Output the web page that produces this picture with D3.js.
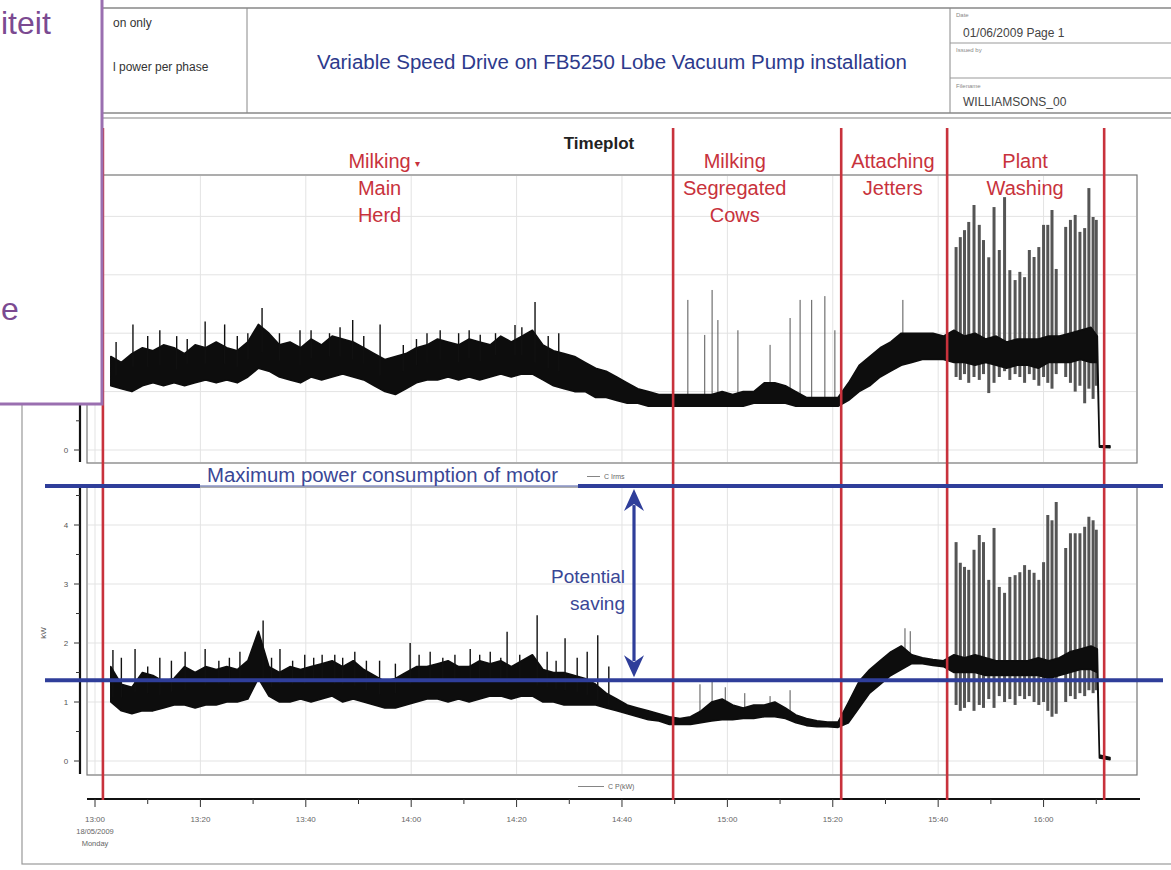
<!DOCTYPE html>
<html>
<head>
<meta charset="utf-8">
<script src="https://cdn.jsdelivr.net/npm/d3@7"></script>
<style>
  body { margin: 0; background: #fff; overflow: hidden; }
  svg { display: block; font-family: "Liberation Sans", Arial, sans-serif; }
</style>
</head>
<body>
<div id="chart"></div>
<script>
// Timeplot of pump current (upper) and power (lower), minutes after 13:00 on 18/05/2009

var tickMinutes = [0, 20, 40, 60, 80, 100, 120, 140, 160, 180];
var tickLabels = ["13:00", "13:20", "13:40", "14:00", "14:20", "14:40", "15:00", "15:20", "15:40", "16:00"];
var minorTickMinutes = [10, 30, 50, 70, 90, 110, 130, 150, 170, 190];

var phaseBounds = [1.5, 109.7, 141.6, 161.7, 191.5];
var phaseLabelAt = [54, 121.4, 151.4, 176.5];
var phaseLabels = [["Milking", "Main", "Herd"], ["Milking", "Segregated", "Cows"], ["Attaching", "Jetters"], ["Plant", "Washing"]];

var maxMotorPower = 4.66;   // kW
var runningPower = 1.37;    // kW

// dense trace envelope, sampled every 2 min (+ switch-off tail)
var bandMinutes = [3, 5, 7, 9, 11, 13, 15, 17, 19, 21,
  23, 25, 27, 29, 31, 33, 35, 37, 39, 41,
  43, 45, 47, 49, 51, 53, 55, 57, 59, 61,
  63, 65, 67, 69, 71, 73, 75, 77, 79, 81,
  83, 85, 87, 89, 91, 93, 95, 97, 99, 101,
  103, 105, 107, 109, 111, 113, 115, 117, 119, 121,
  123, 125, 127, 129, 131, 133, 135, 137, 139, 141,
  143, 145, 147, 149, 151, 153, 155, 157, 159, 161,
  163, 165, 167, 169, 171, 173, 175, 177, 179, 181,
  183, 185, 187, 189, 190.2, 190.6, 192.6];

var irmsLow = [2.2, 2.1, 2.0, 2.2, 2.3, 2.2, 2.3, 2.2, 2.3, 2.4,
  2.3, 2.4, 2.3, 2.5, 2.8, 2.7, 2.5, 2.4, 2.3, 2.5,
  2.4, 2.5, 2.6, 2.5, 2.4, 2.2, 2.0, 1.9, 2.1, 2.3,
  2.4, 2.4, 2.5, 2.4, 2.5, 2.4, 2.5, 2.6, 2.5, 2.6,
  2.6, 2.4, 2.2, 2.1, 2.0, 2.0, 1.8, 1.8, 1.7, 1.6,
  1.6, 1.5, 1.5, 1.5, 1.5, 1.5, 1.5, 1.5, 1.5, 1.5,
  1.5, 1.6, 1.6, 1.6, 1.6, 1.5, 1.5, 1.5, 1.5, 1.5,
  1.7, 2.0, 2.2, 2.5, 2.7, 2.9, 3.0, 3.1, 3.1, 3.1,
  3.0, 3.0, 2.9, 3.0, 2.9, 2.8, 2.9, 2.9, 2.8, 3.0,
  3.0, 3.0, 3.1, 3.0, 3.0, 0.1, 0.08];
var irmsHigh = [3.2, 3.0, 3.3, 3.5, 3.4, 3.6, 3.5, 3.3, 3.6, 3.5,
  3.7, 3.5, 3.4, 3.7, 4.3, 4.0, 3.6, 3.7, 3.5, 3.8,
  3.6, 3.9, 3.8, 3.7, 3.5, 3.3, 3.1, 3.2, 3.3, 3.5,
  3.6, 3.8, 3.7, 3.6, 3.8, 3.7, 3.6, 3.9, 3.7, 3.9,
  4.1, 3.6, 3.4, 3.3, 3.2, 3.0, 2.8, 2.7, 2.5, 2.3,
  2.1, 2.0, 1.9, 1.9, 1.9, 1.9, 1.9, 1.9, 2.0, 1.9,
  2.0, 2.0, 2.3, 2.3, 2.2, 2.0, 1.8, 1.8, 1.8, 1.8,
  2.3, 2.9, 3.2, 3.5, 3.7, 4.0, 4.0, 4.0, 4.0, 3.9,
  4.1, 3.9, 4.0, 3.8, 3.9, 3.7, 3.8, 3.8, 3.8, 3.9,
  3.9, 4.0, 4.1, 4.2, 3.9, 0.15, 0.14];

var kwLow = [1.0, 0.85, 0.8, 0.85, 0.85, 0.9, 0.95, 0.95, 0.9, 0.95,
  0.95, 1.0, 1.0, 1.05, 1.4, 1.1, 1.0, 1.0, 1.05, 1.0,
  1.05, 1.1, 1.0, 1.05, 1.0, 0.95, 0.9, 0.9, 0.95, 1.0,
  1.05, 1.05, 1.0, 1.05, 1.0, 1.05, 1.1, 1.1, 1.05, 1.1,
  1.1, 1.0, 1.0, 0.95, 0.95, 0.95, 0.95, 0.9, 0.85, 0.8,
  0.75, 0.7, 0.68, 0.62, 0.62, 0.62, 0.65, 0.68, 0.7, 0.7,
  0.72, 0.72, 0.75, 0.75, 0.72, 0.65, 0.6, 0.58, 0.58, 0.57,
  0.65, 0.9, 1.15, 1.3, 1.45, 1.55, 1.65, 1.65, 1.62, 1.6,
  1.5, 1.5, 1.5, 1.45, 1.45, 1.45, 1.45, 1.45, 1.45, 1.4,
  1.45, 1.5, 1.55, 1.55, 1.5, 0.05, 0.02];
var kwHigh = [1.6, 1.3, 1.25, 1.5, 1.45, 1.35, 1.4, 1.6, 1.5, 1.6,
  1.55, 1.6, 1.55, 1.7, 2.2, 1.6, 1.5, 1.6, 1.55, 1.6,
  1.65, 1.7, 1.6, 1.7, 1.55, 1.45, 1.35, 1.4, 1.5, 1.6,
  1.6, 1.65, 1.7, 1.6, 1.6, 1.7, 1.65, 1.7, 1.6, 1.7,
  1.8, 1.55, 1.5, 1.5, 1.45, 1.4, 1.3, 1.15, 1.05, 0.95,
  0.9, 0.85, 0.8, 0.75, 0.72, 0.75, 0.85, 1.0, 1.05, 0.95,
  0.9, 0.95, 0.95, 1.0, 0.9, 0.78, 0.72, 0.68, 0.66, 0.66,
  1.0, 1.35, 1.55, 1.7, 1.85, 1.95, 1.8, 1.75, 1.72, 1.7,
  1.8, 1.75, 1.8, 1.75, 1.7, 1.7, 1.7, 1.7, 1.75, 1.7,
  1.75, 1.85, 1.9, 1.95, 1.9, 0.1, 0.06];

// isolated peaks
var irmsSpikeMin = [4.0, 7.2, 10.0, 12.3, 15.5, 17.5, 20.9, 24.6, 27.0, 29.0, 31.7, 35.0, 38.9, 41.0, 44.5, 46.5, 48.9,
  51.0, 54.1, 58.5, 61.0, 63.0, 65.5, 69.0, 71.0, 73.1, 76.0, 79.7, 81.0, 83.5, 86.0, 88.0];
var irmsSpikeVal = [3.7, 4.3, 3.9, 4.1, 3.9, 3.8, 4.4, 4.3, 3.9, 4.0, 4.86, 4.0, 4.1, 4.1, 4.0, 4.2, 4.45,
  3.9, 4.3, 3.6, 3.8, 4.0, 4.1, 4.0, 4.1, 3.95, 4.0, 4.28, 4.2, 5.07, 3.9, 4.0];
var irmsThinMin = [112.5, 115.7, 117.1, 118.2, 122.0, 128.1, 131.9, 133.8, 136.0, 138.5, 140.4, 153.3];
var irmsThinVal = [5.14, 3.94, 5.48, 4.45, 4.1, 3.6, 4.52, 5.14, 5.14, 5.27, 4.1, 5.14];

var kwSpikeMin = [3.4, 5.0, 7.6, 10.0, 12.3, 14.5, 17.1, 20.9, 23.5, 25.5, 27.5, 29.5, 31.9, 33.5, 35.1, 37.5, 39.8,
  41.5, 43.1, 45.5, 47.0, 49.3, 51.5, 54.0, 57.0, 59.8, 61.5, 63.6, 66.0, 68.3, 71.2, 73.0, 75.0, 77.0, 78.2,
  80.6, 83.9, 85.8, 87.5, 89.2, 91.5, 93.4, 95.4, 97.5];
var kwSpikeVal = [1.88, 1.75, 1.9, 1.6, 1.75, 1.7, 1.85, 1.9, 1.7, 1.75, 1.85, 1.8, 2.38, 1.75, 1.9, 1.7, 1.8,
  1.75, 1.8, 1.8, 1.75, 1.85, 1.7, 1.7, 1.65, 2.0, 1.8, 1.85, 1.75, 1.8, 1.9, 1.8, 1.85, 1.75, 2.19,
  1.8, 2.47, 1.85, 1.7, 2.08, 1.75, 1.85, 2.13, 1.6];
var kwThinMin = [114.8, 117.1, 119.6, 123.3, 128.1, 131.9, 153.7, 154.7];
var kwThinVal = [1.3, 1.35, 1.25, 1.15, 1.1, 1.2, 2.25, 2.2];

// plant washing bursts (grey trace)
var washMinutes = [163.4, 164.2, 165.0, 165.8, 166.8, 167.8, 168.6, 169.6, 170.6, 171.6,
  172.6, 173.6, 174.6, 175.5, 176.4, 177.3, 178.2, 179.1, 180.0, 180.8,
  181.6, 182.4, 184.2, 185.1, 186.0, 186.9, 187.8, 188.6, 189.4, 190.0];
var washIrmsHigh = [6.95, 7.29, 7.53, 7.81, 8.39, 7.71, 7.19, 6.6, 8.32, 6.85,
  8.66, 6.16, 5.82, 6.1, 5.92, 6.85, 6.61, 6.95, 7.71, 7.71,
  8.22, 6.2, 7.64, 7.88, 8.05, 7.47, 7.6, 8.97, 7.98, 7.88];
var washIrmsLow = [2.5, 2.4, 2.6, 2.3, 2.5, 2.4, 2.6, 1.95, 2.3, 2.5,
  2.7, 2.4, 2.6, 2.5, 2.3, 2.6, 2.4, 2.2, 2.5, 2.3,
  2.1, 2.6, 2.5, 2.3, 2.0, 2.2, 1.6, 2.1, 1.75, 2.2];
var washKwHigh = [3.71, 3.36, 3.29, 3.24, 3.58, 3.83, 3.71, 3.07, 3.95, 2.95,
  2.85, 3.12, 3.15, 3.2, 3.32, 3.24, 3.19, 3.07, 3.37, 4.17,
  4.08, 4.39, 3.61, 3.86, 3.86, 3.86, 3.97, 4.14, 4.08, 3.92];
var washKwLow = [0.95, 0.85, 0.9, 1.0, 0.85, 0.95, 0.9, 1.05, 0.9, 1.1,
  1.0, 1.05, 0.95, 1.1, 1.05, 1.1, 1.0, 0.95, 1.0, 0.85,
  0.75, 0.8, 1.0, 1.1, 1.05, 1.15, 1.1, 1.2, 1.15, 1.2];

var irmsTicks = [0, 2, 4, 6, 8];
var kwTicks = [0, 1, 2, 3, 4];

// ---------------------------------------------------------------------------
var W = 1171, H = 870;
var svg = d3.select("#chart").append("svg").attr("width", W).attr("height", H);

var RED = "#c8323c", BLUE = "#2f3e9a", BLUE_TXT = "#3a4796";

var x = d3.scaleLinear().domain([-1.52, 198.3]).range([87, 1140]);
var yU = d3.scaleLinear().domain([0, 8]).range([450, 216.4]);
var yL = d3.scaleLinear().domain([0, 4]).range([761, 525]);

// --- Page frame + header block ---
svg.append("rect").attr("x", 22).attr("y", 118).attr("width", 1180).attr("height", 746)
  .attr("fill", "none").attr("stroke", "#999").attr("stroke-width", 1.2);

var hdr = svg.append("g");
hdr.append("rect").attr("x", 30).attr("y", 8).attr("width", 1170).attr("height", 105)
  .attr("fill", "none").attr("stroke", "#888").attr("stroke-width", 1.5);
hdr.append("line").attr("x1", 247).attr("x2", 247).attr("y1", 8).attr("y2", 113).attr("stroke", "#888");
hdr.append("line").attr("x1", 950).attr("x2", 950).attr("y1", 8).attr("y2", 113).attr("stroke", "#888");
hdr.append("line").attr("x1", 950).attr("x2", 1171).attr("y1", 43).attr("y2", 43).attr("stroke", "#999");
hdr.append("line").attr("x1", 950).attr("x2", 1171).attr("y1", 78).attr("y2", 78).attr("stroke", "#999");

function hText(xp, yp, txt, size, fill, anchor) {
  return hdr.append("text").attr("x", xp).attr("y", yp).attr("text-anchor", anchor || "start")
    .style("font-size", size + "px").style("fill", fill).text(txt);
}
hText(113, 27, "on only", 12, "#333");
hText(113, 71, "l power per phase", 12, "#333");
hText(612, 69, "Variable Speed Drive on FB5250 Lobe Vacuum Pump installation", 19.5, "#2d3a8c", "middle")
  .attr("textLength", 590).attr("lengthAdjust", "spacingAndGlyphs");
hText(956, 17, "Date", 6, "#888");
hText(963, 37, "01/06/2009 Page 1", 12, "#444");
hText(956, 52, "Issued by", 6, "#888");
hText(956, 88, "Filename", 6, "#888");
hText(963, 106, "WILLIAMSONS_00", 12, "#444");

// --- Panels ---
function panel(top, bottom, yScale, ticks) {
  var g = svg.append("g");
  g.append("rect").attr("x", 87).attr("y", top).attr("width", 1050).attr("height", bottom - top)
    .attr("fill", "#fff").attr("stroke", "#777").attr("stroke-width", 1.2);
  g.selectAll(".vg").data(tickMinutes).enter().append("line")
    .attr("x1", function(d) { return x(d); }).attr("x2", function(d) { return x(d); })
    .attr("y1", top + 1).attr("y2", bottom - 1)
    .attr("stroke", "#e3e3e3").attr("stroke-width", 1);
  g.selectAll(".hg").data(ticks).enter().append("line")
    .attr("x1", 88).attr("x2", 1136)
    .attr("y1", function(d) { return yScale(d); }).attr("y2", function(d) { return yScale(d); })
    .attr("stroke", "#e3e3e3").attr("stroke-width", 1);

  var minor = [];
  ticks.forEach(function(t) { minor.push(t + ticks[1] / 2); });
  var ax = g.append("g").attr("transform", "translate(80,0)");
  ax.append("line").attr("x1", 0).attr("x2", 0).attr("y1", top - 1).attr("y2", bottom - 1)
    .attr("stroke", "#111").attr("stroke-width", 2.2);
  ax.selectAll(".mj").data(ticks).enter().append("line")
    .attr("x1", -6).attr("x2", 0)
    .attr("y1", function(d) { return yScale(d); }).attr("y2", function(d) { return yScale(d); })
    .attr("stroke", "#333").attr("stroke-width", 1);
  ax.selectAll(".mn").data(minor.filter(function(d) { return yScale(d) > top; })).enter().append("line")
    .attr("x1", -4).attr("x2", 0)
    .attr("y1", function(d) { return yScale(d); }).attr("y2", function(d) { return yScale(d); })
    .attr("stroke", "#333").attr("stroke-width", 1);
  ax.selectAll(".lb").data(ticks).enter().append("text")
    .attr("x", -14).attr("y", function(d) { return yScale(d) + 3; })
    .attr("text-anchor", "middle").style("font-size", "8px").style("fill", "#555")
    .text(function(d) { return d; });
  return g;
}
var gU = panel(175, 463, yU, irmsTicks);
var gL = panel(487, 775, yL, kwTicks);

// --- Traces ---
function bandRows(lo, hi) {
  return bandMinutes.map(function(m, i) { return { m: m, lo: lo[i], hi: hi[i] }; });
}
var bis = d3.bisector(function(d) { return d.m; }).left;
function baseAt(rows, m) {
  var i = Math.min(rows.length - 1, Math.max(0, bis(rows, m)));
  return (rows[i].lo + rows[i].hi) / 2;
}

function drawTrace(g, yScale, lo, hi, spMin, spVal, thinMin, thinVal, wHi, wLo) {
  var rows = bandRows(lo, hi);
  // grey washing bursts
  g.selectAll(".wash").data(washMinutes).enter().append("line")
    .attr("x1", function(d) { return x(d); }).attr("x2", function(d) { return x(d); })
    .attr("y1", function(d, i) { return yScale(wLo[i]); })
    .attr("y2", function(d, i) { return yScale(wHi[i]); })
    .attr("stroke", "#555").attr("stroke-width", 3);
  // thin spikes
  g.selectAll(".thin").data(thinMin).enter().append("line")
    .attr("x1", function(d) { return x(d); }).attr("x2", function(d) { return x(d); })
    .attr("y1", function(d) { return yScale(baseAt(rows, d)); })
    .attr("y2", function(d, i) { return yScale(thinVal[i]); })
    .attr("stroke", "#555").attr("stroke-width", 1);
  // dense band
  var area = d3.area()
    .x(function(d) { return x(d.m); })
    .y0(function(d) { return yScale(d.lo); })
    .y1(function(d) { return yScale(d.hi); });
  g.append("path").datum(rows)
    .attr("fill", "#0d0d0d").attr("stroke", "#0d0d0d").attr("stroke-width", 1.6)
    .attr("stroke-linejoin", "round").attr("d", area);
  // spikes
  g.selectAll(".spk").data(spMin).enter().append("line")
    .attr("x1", function(d) { return x(d); }).attr("x2", function(d) { return x(d); })
    .attr("y1", function(d) { return yScale(baseAt(rows, d)); })
    .attr("y2", function(d, i) { return yScale(spVal[i]); })
    .attr("stroke", "#111").attr("stroke-width", 1.4);
}
drawTrace(gU, yU, irmsLow, irmsHigh, irmsSpikeMin, irmsSpikeVal, irmsThinMin, irmsThinVal, washIrmsHigh, washIrmsLow);
drawTrace(gL, yL, kwLow, kwHigh, kwSpikeMin, kwSpikeVal, kwThinMin, kwThinVal, washKwHigh, washKwLow);

// legend keys
function key(x1, x2, yp, label) {
  svg.append("line").attr("x1", x1).attr("x2", x2).attr("y1", yp - 2.5).attr("y2", yp - 2.5)
    .attr("stroke", "#666").attr("stroke-width", 0.8);
  svg.append("text").attr("x", x2 + 4).attr("y", yp).style("font-size", "7px").style("fill", "#666").text(label);
}
key(587, 600, 479, "C Irms");
key(578, 604, 789, "C P(kW)");

svg.append("text").attr("transform", "translate(46,633) rotate(-90)").attr("text-anchor", "middle")
  .style("font-size", "8px").style("fill", "#555").text("kW");

// --- Time axis ---
var xa = svg.append("g").attr("transform", "translate(0,799)");
xa.append("line").attr("x1", 87).attr("x2", 1140).attr("y1", 0).attr("y2", 0)
  .attr("stroke", "#111").attr("stroke-width", 2.2);
xa.selectAll(".tk").data(tickMinutes).enter().append("line")
  .attr("x1", function(d) { return x(d); }).attr("x2", function(d) { return x(d); })
  .attr("y1", 0).attr("y2", 8).attr("stroke", "#333").attr("stroke-width", 1);
xa.selectAll(".mtk").data(minorTickMinutes).enter().append("line")
  .attr("x1", function(d) { return x(d); }).attr("x2", function(d) { return x(d); })
  .attr("y1", 0).attr("y2", 5).attr("stroke", "#333").attr("stroke-width", 1);
xa.selectAll(".tl").data(tickMinutes).enter().append("text")
  .attr("x", function(d) { return x(d); }).attr("y", 23).attr("text-anchor", "middle")
  .style("font-size", "8px").style("fill", "#666")
  .text(function(d, i) { return tickLabels[i]; });
xa.append("text").attr("x", x(0)).attr("y", 35).attr("text-anchor", "middle")
  .style("font-size", "7.5px").style("fill", "#666").text("18/05/2009");
xa.append("text").attr("x", x(0)).attr("y", 47).attr("text-anchor", "middle")
  .style("font-size", "7.5px").style("fill", "#666").text("Monday");

// --- Timeplot title + phase annotations ---
svg.append("text").attr("x", 599).attr("y", 149).attr("text-anchor", "middle")
  .style("font-size", "17px").style("font-weight", "bold").style("fill", "#222").text("Timeplot");

svg.selectAll(".phase").data(phaseBounds).enter().append("line")
  .attr("x1", function(d) { return x(d); }).attr("x2", function(d) { return x(d); })
  .attr("y1", 128).attr("y2", 800)
  .attr("stroke", RED).attr("stroke-width", 2.6);

phaseLabels.forEach(function(lines, i) {
  lines.forEach(function(t, j) {
    svg.append("text").attr("x", x(phaseLabelAt[i])).attr("y", 168 + j * 27)
      .attr("text-anchor", "middle").style("font-size", "20px").style("fill", RED).text(t);
  });
});
svg.append("text").attr("x", x(phaseLabelAt[0]) + 35).attr("y", 167)
  .style("font-size", "10px").style("fill", RED).text("\u25BE");

// --- Power reference lines + saving arrow ---
svg.append("line").attr("x1", 45).attr("x2", 200).attr("y1", yL(maxMotorPower)).attr("y2", yL(maxMotorPower))
  .attr("stroke", BLUE).attr("stroke-width", 4);
svg.append("line").attr("x1", 200).attr("x2", 578).attr("y1", yL(maxMotorPower)).attr("y2", yL(maxMotorPower))
  .attr("stroke", "#8a93c4").attr("stroke-width", 1.5);
svg.append("line").attr("x1", 578).attr("x2", 1163).attr("y1", yL(maxMotorPower)).attr("y2", yL(maxMotorPower))
  .attr("stroke", BLUE).attr("stroke-width", 4);
svg.append("text").attr("x", 207).attr("y", 482).style("font-size", "19.5px").style("fill", BLUE_TXT)
  .attr("textLength", 351).attr("lengthAdjust", "spacingAndGlyphs")
  .text("Maximum power consumption of motor");

svg.append("line").attr("x1", 45).attr("x2", 1163).attr("y1", yL(runningPower)).attr("y2", yL(runningPower))
  .attr("stroke", BLUE).attr("stroke-width", 4);

var ax0 = 634, aTop = yL(maxMotorPower) + 3, aBot = yL(runningPower) - 3;
svg.append("line").attr("x1", ax0).attr("x2", ax0).attr("y1", aTop + 16).attr("y2", aBot - 16)
  .attr("stroke", BLUE).attr("stroke-width", 3.2);
svg.append("path").attr("fill", BLUE)
  .attr("d", "M" + ax0 + "," + aTop + "L" + (ax0 - 10) + "," + (aTop + 22) + "L" + ax0 + "," + (aTop + 15) +
    "L" + (ax0 + 10) + "," + (aTop + 22) + "Z");
svg.append("path").attr("fill", BLUE)
  .attr("d", "M" + ax0 + "," + aBot + "L" + (ax0 - 10) + "," + (aBot - 22) + "L" + ax0 + "," + (aBot - 15) +
    "L" + (ax0 + 10) + "," + (aBot - 22) + "Z");
svg.append("text").attr("x", 625).attr("y", 583).attr("text-anchor", "end")
  .style("font-size", "19px").style("fill", BLUE_TXT).text("Potential");
svg.append("text").attr("x", 625).attr("y", 610).attr("text-anchor", "end")
  .style("font-size", "19px").style("fill", BLUE_TXT).text("saving");

// --- Overlapping slide box (left) ---
svg.append("rect").attr("x", -4).attr("y", -4).attr("width", 106).attr("height", 408)
  .attr("fill", "#fff").attr("stroke", "#9a6fb0").attr("stroke-width", 3);
svg.append("text").attr("x", 1).attr("y", 34).style("font-size", "32px").style("fill", "#7b4a91").text("iteit");
svg.append("text").attr("x", 1).attr("y", 320).style("font-size", "32px").style("fill", "#7b4a91").text("e");
</script>
</body>
</html>
